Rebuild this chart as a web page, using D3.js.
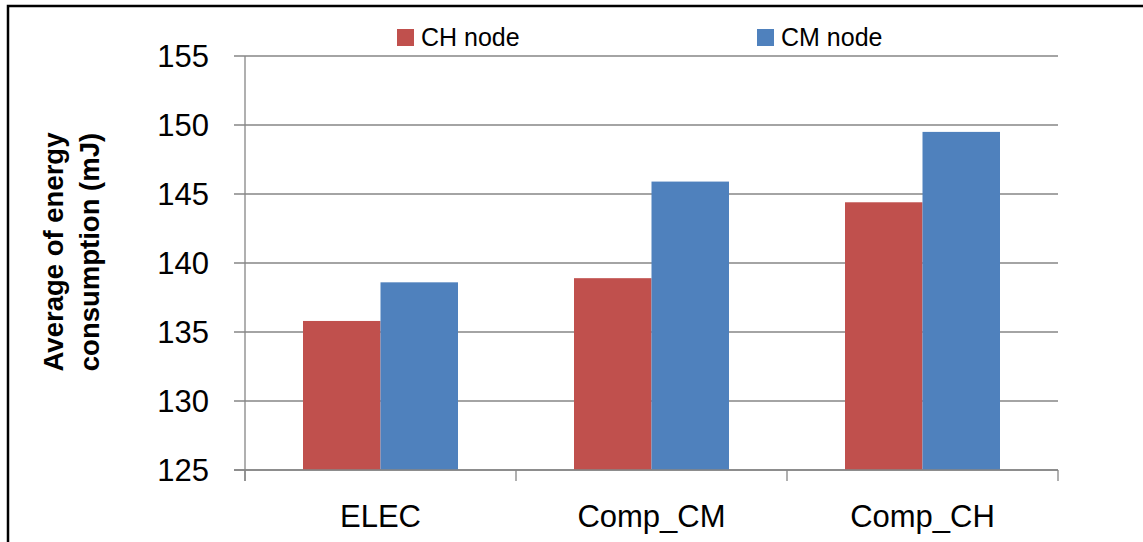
<!DOCTYPE html>
<html>
<head>
<meta charset="utf-8">
<script src="https://cdn.jsdelivr.net/npm/d3@7"></script>
<style>
  body { margin: 0; background: #fff; }
  svg text { font-family: "Liberation Sans", Arial, sans-serif; fill: #000; }
</style>
</head>
<body>
<script>
// donnees
const categories = ["ELEC", "Comp_CM", "Comp_CH"];
const seriesNames = ["CH node", "CM node"];
const chValues = [135.8, 138.9, 144.4];
const cmValues = [138.6, 145.9, 149.5];
const yTicks = [125, 130, 135, 140, 145, 150, 155];
const colors = ["#C0504D", "#4F81BD"];

const width = 1143, height = 542;
const margin = {left: 245, right: 85, top: 56, bottom: 72};

const svg = d3.select("body").append("svg")
    .attr("width", width)
    .attr("height", height);

// cadre
svg.append("rect")
    .attr("x", 8).attr("y", 6)
    .attr("width", 1200).attr("height", 600)
    .attr("fill", "none")
    .attr("stroke", "#000")
    .attr("stroke-width", 2.5);

const x = d3.scaleBand()
    .domain(categories)
    .range([margin.left, width - margin.right])
    .paddingInner(116 / 271)
    .paddingOuter(58 / 271);

const xBand = d3.scaleBand()
    .domain(categories)
    .range([margin.left, width - margin.right]);

const xSub = d3.scaleBand()
    .domain(seriesNames)
    .range([0, x.bandwidth()]);

const y = d3.scaleLinear()
    .domain([125, 155])
    .range([height - margin.bottom, margin.top]);

// grille
svg.append("g")
    .selectAll("line")
    .data(yTicks)
    .enter()
    .append("line")
    .attr("x1", margin.left - 11)
    .attr("x2", width - margin.right)
    .attr("y1", d => y(d))
    .attr("y2", d => y(d))
    .attr("stroke", "#868686")
    .attr("stroke-width", 1.3);

// labels axe y
svg.append("g")
    .selectAll("text")
    .data(yTicks)
    .enter()
    .append("text")
    .text(d => d)
    .attr("x", margin.left - 36)
    .attr("y", d => y(d) + 11)
    .attr("text-anchor", "end")
    .attr("font-size", 31);

// barres
const rows = categories.map((c, i) => ({cat: c, vals: [chValues[i], cmValues[i]]}));
const groups = svg.append("g")
    .selectAll("g")
    .data(rows)
    .enter()
    .append("g")
    .attr("transform", d => `translate(${x(d.cat)},0)`);

groups.selectAll("rect")
    .data(d => d.vals.map((v, j) => ({name: seriesNames[j], v: v, j: j})))
    .enter()
    .append("rect")
    .attr("x", d => xSub(d.name))
    .attr("y", d => y(d.v))
    .attr("width", xSub.bandwidth())
    .attr("height", d => y(125) - y(d.v))
    .attr("fill", d => colors[d.j]);

// axes
const axisColor = "#868686";
svg.append("line")
    .attr("x1", margin.left).attr("x2", margin.left)
    .attr("y1", margin.top).attr("y2", y(125) + 11)
    .attr("stroke", axisColor).attr("stroke-width", 1.3);
svg.append("line")
    .attr("x1", margin.left - 11).attr("x2", width - margin.right)
    .attr("y1", y(125)).attr("y2", y(125))
    .attr("stroke", axisColor).attr("stroke-width", 1.3);

const xTickPos = categories.map(c => xBand(c)).concat([width - margin.right]);
svg.append("g")
    .selectAll("line")
    .data(xTickPos)
    .enter()
    .append("line")
    .attr("x1", d => d).attr("x2", d => d)
    .attr("y1", y(125)).attr("y2", y(125) + 11)
    .attr("stroke", axisColor).attr("stroke-width", 1.3);

svg.append("g")
    .selectAll("text")
    .data(categories)
    .enter()
    .append("text")
    .text(d => d)
    .attr("x", d => xBand(d) + xBand.bandwidth() / 2)
    .attr("y", 527)
    .attr("text-anchor", "middle")
    .attr("font-size", 31);

// titre axe y
const yTitle = svg.append("text")
    .attr("transform", "translate(0,252) rotate(-90)")
    .attr("text-anchor", "middle")
    .attr("font-size", 27.5)
    .attr("font-weight", "bold");
yTitle.append("tspan").attr("x", 0).attr("y", 63).text("Average of energy");
yTitle.append("tspan").attr("x", 0).attr("y", 99).text("consumption (mJ)");

// legende
const legendX = [397, 757];
const legend = svg.append("g")
    .selectAll("g")
    .data(seriesNames)
    .enter()
    .append("g")
    .attr("transform", (d, i) => `translate(${legendX[i]},29)`);
legend.append("rect")
    .attr("width", 17).attr("height", 17)
    .attr("fill", (d, i) => colors[i]);
legend.append("text")
    .text(d => d)
    .attr("x", 24)
    .attr("y", 17)
    .attr("font-size", 25);
</script>
</body>
</html>
